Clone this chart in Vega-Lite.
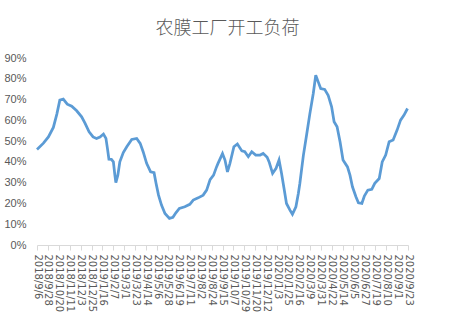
{
  "$schema": "https://vega.github.io/schema/vega-lite/v6.json",
  "width": 371,
  "height": 187,
  "autosize": {"type": "none"},
  "padding": {"left": 37, "top": 58, "right": 51, "bottom": 88},
  "background": "white",
  "title": {
    "text": "农膜工厂开工负荷",
    "font": "Noto Sans CJK SC",
    "fontSize": 18,
    "fontWeight": 300,
    "color": "#595959",
    "anchor": "middle",
    "dx": 5,
    "offset": 14
  },
  "config": {
    "view": {"stroke": null},
    "axis": {"labelFont": "Liberation Sans", "labelColor": "#595959", "grid": false, "title": null}
  },
  "data": {
    "values": [
      {"date": "2018-09-06", "v": 0.46},
      {"date": "2018-09-19", "v": 0.49},
      {"date": "2018-09-29", "v": 0.52},
      {"date": "2018-10-09", "v": 0.566},
      {"date": "2018-10-16", "v": 0.63},
      {"date": "2018-10-22", "v": 0.697},
      {"date": "2018-10-29", "v": 0.702},
      {"date": "2018-11-06", "v": 0.678},
      {"date": "2018-11-15", "v": 0.668},
      {"date": "2018-11-25", "v": 0.646},
      {"date": "2018-12-05", "v": 0.617},
      {"date": "2018-12-12", "v": 0.585},
      {"date": "2018-12-20", "v": 0.545},
      {"date": "2018-12-28", "v": 0.52},
      {"date": "2019-01-04", "v": 0.513},
      {"date": "2019-01-11", "v": 0.52},
      {"date": "2019-01-18", "v": 0.534},
      {"date": "2019-01-23", "v": 0.513},
      {"date": "2019-01-26", "v": 0.465},
      {"date": "2019-01-29", "v": 0.413},
      {"date": "2019-02-03", "v": 0.412},
      {"date": "2019-02-07", "v": 0.40},
      {"date": "2019-02-10", "v": 0.336},
      {"date": "2019-02-12", "v": 0.30},
      {"date": "2019-02-16", "v": 0.336},
      {"date": "2019-02-20", "v": 0.40},
      {"date": "2019-02-27", "v": 0.445},
      {"date": "2019-03-06", "v": 0.473},
      {"date": "2019-03-16", "v": 0.508},
      {"date": "2019-03-26", "v": 0.513},
      {"date": "2019-04-02", "v": 0.489},
      {"date": "2019-04-08", "v": 0.449},
      {"date": "2019-04-15", "v": 0.393},
      {"date": "2019-04-23", "v": 0.352},
      {"date": "2019-04-30", "v": 0.348},
      {"date": "2019-05-04", "v": 0.297},
      {"date": "2019-05-09", "v": 0.24},
      {"date": "2019-05-15", "v": 0.192},
      {"date": "2019-05-22", "v": 0.152},
      {"date": "2019-05-31", "v": 0.128},
      {"date": "2019-06-07", "v": 0.133},
      {"date": "2019-06-13", "v": 0.155},
      {"date": "2019-06-20", "v": 0.176},
      {"date": "2019-07-01", "v": 0.184},
      {"date": "2019-07-11", "v": 0.196},
      {"date": "2019-07-18", "v": 0.216},
      {"date": "2019-07-28", "v": 0.227},
      {"date": "2019-08-07", "v": 0.24},
      {"date": "2019-08-14", "v": 0.264},
      {"date": "2019-08-21", "v": 0.315},
      {"date": "2019-08-28", "v": 0.336},
      {"date": "2019-09-03", "v": 0.376},
      {"date": "2019-09-06", "v": 0.393},
      {"date": "2019-09-15", "v": 0.44},
      {"date": "2019-09-20", "v": 0.409},
      {"date": "2019-09-25", "v": 0.352},
      {"date": "2019-09-30", "v": 0.393},
      {"date": "2019-10-08", "v": 0.473},
      {"date": "2019-10-15", "v": 0.486},
      {"date": "2019-10-24", "v": 0.453},
      {"date": "2019-10-30", "v": 0.449},
      {"date": "2019-11-06", "v": 0.425},
      {"date": "2019-11-13", "v": 0.449},
      {"date": "2019-11-21", "v": 0.433},
      {"date": "2019-11-30", "v": 0.433},
      {"date": "2019-12-06", "v": 0.441},
      {"date": "2019-12-14", "v": 0.422},
      {"date": "2019-12-18", "v": 0.40},
      {"date": "2019-12-25", "v": 0.345},
      {"date": "2020-01-01", "v": 0.369},
      {"date": "2020-01-07", "v": 0.409},
      {"date": "2020-01-12", "v": 0.345},
      {"date": "2020-01-17", "v": 0.273},
      {"date": "2020-01-22", "v": 0.20},
      {"date": "2020-01-29", "v": 0.168},
      {"date": "2020-02-03", "v": 0.148},
      {"date": "2020-02-10", "v": 0.184},
      {"date": "2020-02-15", "v": 0.249},
      {"date": "2020-02-18", "v": 0.297},
      {"date": "2020-02-25", "v": 0.43},
      {"date": "2020-03-03", "v": 0.537},
      {"date": "2020-03-09", "v": 0.63},
      {"date": "2020-03-16", "v": 0.729},
      {"date": "2020-03-21", "v": 0.817},
      {"date": "2020-03-26", "v": 0.785},
      {"date": "2020-03-31", "v": 0.753},
      {"date": "2020-04-08", "v": 0.749},
      {"date": "2020-04-15", "v": 0.721},
      {"date": "2020-04-22", "v": 0.665},
      {"date": "2020-04-27", "v": 0.593},
      {"date": "2020-05-03", "v": 0.569},
      {"date": "2020-05-09", "v": 0.497},
      {"date": "2020-05-15", "v": 0.409},
      {"date": "2020-05-24", "v": 0.376},
      {"date": "2020-05-29", "v": 0.336},
      {"date": "2020-06-03", "v": 0.28},
      {"date": "2020-06-10", "v": 0.232},
      {"date": "2020-06-15", "v": 0.203},
      {"date": "2020-06-22", "v": 0.20},
      {"date": "2020-06-27", "v": 0.236},
      {"date": "2020-07-04", "v": 0.264},
      {"date": "2020-07-12", "v": 0.268},
      {"date": "2020-07-18", "v": 0.297},
      {"date": "2020-07-27", "v": 0.32},
      {"date": "2020-08-02", "v": 0.40},
      {"date": "2020-08-09", "v": 0.433},
      {"date": "2020-08-16", "v": 0.497},
      {"date": "2020-08-24", "v": 0.505},
      {"date": "2020-09-01", "v": 0.553},
      {"date": "2020-09-08", "v": 0.601},
      {"date": "2020-09-15", "v": 0.625},
      {"date": "2020-09-22", "v": 0.657}
    ]
  },
  "mark": {"type": "line", "color": "#5B9BD5", "strokeWidth": 2.75},
  "encoding": {
    "x": {
      "field": "date",
      "type": "temporal",
      "scale": {
        "type": "utc",
        "domain": [
          {"year": 2018, "month": 9, "date": 6, "utc": true},
          {"year": 2020, "month": 9, "date": 23, "utc": true}
        ]
      },
      "axis": {
        "labelExpr": "utcFormat(datum.value, '%Y/%-m/%-d')",
        "labelFont": "DejaVu Sans",
        "labelAngle": 90,
        "labelAlign": "left",
        "labelBaseline": "middle",
        "labelFontSize": 10,
        "labelPadding": 4,
        "labelOverlap": false,
        "labelFlush": false,
        "domainColor": "#d9d9d9",
        "tickColor": "#d9d9d9",
        "tickSize": 5,
        "values": [
          {"year": 2018, "month": 9, "date": 6, "utc": true},
          {"year": 2018, "month": 9, "date": 28, "utc": true},
          {"year": 2018, "month": 10, "date": 20, "utc": true},
          {"year": 2018, "month": 11, "date": 11, "utc": true},
          {"year": 2018, "month": 12, "date": 3, "utc": true},
          {"year": 2018, "month": 12, "date": 25, "utc": true},
          {"year": 2019, "month": 1, "date": 16, "utc": true},
          {"year": 2019, "month": 2, "date": 7, "utc": true},
          {"year": 2019, "month": 3, "date": 1, "utc": true},
          {"year": 2019, "month": 3, "date": 23, "utc": true},
          {"year": 2019, "month": 4, "date": 14, "utc": true},
          {"year": 2019, "month": 5, "date": 6, "utc": true},
          {"year": 2019, "month": 5, "date": 28, "utc": true},
          {"year": 2019, "month": 6, "date": 19, "utc": true},
          {"year": 2019, "month": 7, "date": 11, "utc": true},
          {"year": 2019, "month": 8, "date": 2, "utc": true},
          {"year": 2019, "month": 8, "date": 24, "utc": true},
          {"year": 2019, "month": 9, "date": 15, "utc": true},
          {"year": 2019, "month": 10, "date": 7, "utc": true},
          {"year": 2019, "month": 10, "date": 29, "utc": true},
          {"year": 2019, "month": 11, "date": 20, "utc": true},
          {"year": 2019, "month": 12, "date": 12, "utc": true},
          {"year": 2020, "month": 1, "date": 3, "utc": true},
          {"year": 2020, "month": 1, "date": 25, "utc": true},
          {"year": 2020, "month": 2, "date": 16, "utc": true},
          {"year": 2020, "month": 3, "date": 9, "utc": true},
          {"year": 2020, "month": 3, "date": 31, "utc": true},
          {"year": 2020, "month": 4, "date": 22, "utc": true},
          {"year": 2020, "month": 5, "date": 14, "utc": true},
          {"year": 2020, "month": 6, "date": 5, "utc": true},
          {"year": 2020, "month": 6, "date": 27, "utc": true},
          {"year": 2020, "month": 7, "date": 19, "utc": true},
          {"year": 2020, "month": 8, "date": 10, "utc": true},
          {"year": 2020, "month": 9, "date": 1, "utc": true},
          {"year": 2020, "month": 9, "date": 23, "utc": true}
        ]
      }
    },
    "y": {
      "field": "v",
      "type": "quantitative",
      "scale": {"domain": [0, 0.9]},
      "axis": {
        "format": ".0%",
        "values": [0, 0.1, 0.2, 0.3, 0.4, 0.5, 0.6, 0.7, 0.8, 0.9],
        "domain": false,
        "ticks": false,
        "tickSize": 0,
        "labelPadding": 11,
        "labelFontSize": 11
      }
    }
  }
}
